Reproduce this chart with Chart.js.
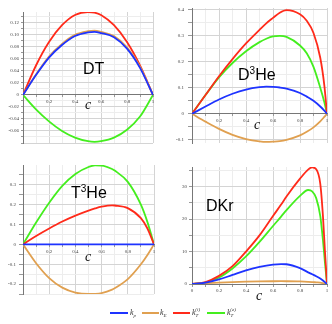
<!DOCTYPE html>
<html><head><meta charset="utf-8">
<script src="https://cdn.jsdelivr.net/npm/chart.js@4.4.0/dist/chart.umd.min.js"></script>
<style>
html,body{margin:0;padding:0;background:#fff;}
#wrap{position:relative;width:332px;height:324px;overflow:hidden;background:#fff;}
canvas{position:absolute;}
.ttl{position:absolute;font-family:"Liberation Sans",Arial,sans-serif;font-size:16px;line-height:16px;color:#000;white-space:nowrap;}
.ttl sup{font-size:10px;vertical-align:0;position:relative;top:-6px;line-height:0;}
.cx{position:absolute;font-family:"Liberation Serif","Times New Roman",serif;font-style:italic;font-size:14px;line-height:14px;color:#111;}
.lg{position:absolute;height:2px;top:312px;}
.lt{position:absolute;font-family:"Liberation Serif","Times New Roman",serif;font-style:italic;font-size:8px;line-height:8px;color:#333;top:309px;white-space:nowrap;}
.lt sub{font-size:5px;vertical-align:0;position:relative;top:2px;}
.lt sup{font-size:5px;vertical-align:0;position:relative;top:-4px;margin-left:-3px;}
</style></head><body>
<div id="wrap">
<canvas id="c1" width="160" height="150" style="left:0;top:0"></canvas>
<canvas id="c2" width="166" height="150" style="left:166px;top:0"></canvas>
<canvas id="c3" width="160" height="150" style="left:0;top:150px"></canvas>
<canvas id="c4" width="166" height="150" style="left:166px;top:150px"></canvas>

<div class="ttl" style="left:83px;top:61px">DT</div>
<div class="ttl" style="left:238px;top:67px">D<sup>3</sup>He</div>
<div class="ttl" style="left:71px;top:185px">T<sup>3</sup>He</div>
<div class="ttl" style="left:206px;top:198px">DKr</div>

<div class="cx" style="left:85px;top:98px">c</div>
<div class="cx" style="left:254px;top:118px">c</div>
<div class="cx" style="left:85px;top:250px">c</div>
<div class="cx" style="left:256px;top:289px">c</div>

<div class="lg" style="left:110px;width:18px;background:#1e33ff"></div>
<div class="lt" style="left:130px">k<sub>p</sub></div>
<div class="lg" style="left:142px;width:17px;background:#e0a050"></div>
<div class="lt" style="left:160px">k<sub>E</sub></div>
<div class="lg" style="left:173px;width:17px;background:#ff2a1a"></div>
<div class="lt" style="left:192px">k<sub>T</sub><sup>(i)</sup></div>
<div class="lg" style="left:207px;width:18px;background:#44ee1e"></div>
<div class="lt" style="left:227px">k<sub>T</sub><sup>(e)</sup></div>
</div>
<script>
// ---- data ----
const seriesNames = ['kp', 'kE', 'kTi', 'kTe'];
const seriesColors = ['#1e33ff', '#e0a050', '#ff2a1a', '#44ee1e'];

// DT panel
const dtC   = [0, 0.1, 0.2, 0.3, 0.4, 0.5, 0.55, 0.6, 0.7, 0.8, 0.9, 1];
const dtKp  = [0, 0.033, 0.062, 0.083, 0.098, 0.104, 0.105, 0.103, 0.096, 0.077, 0.045, 0];
const dtKE  = [0, 0.034, 0.064, 0.085, 0.100, 0.106, 0.107, 0.105, 0.098, 0.079, 0.047, 0];
const dtKTi = [0, 0.049, 0.088, 0.116, 0.133, 0.138, 0.137, 0.133, 0.116, 0.088, 0.049, 0];
const dtKTe = [0, -0.024, -0.044, -0.060, -0.071, -0.077, -0.078, -0.077, -0.071, -0.058, -0.036, 0];

// D3He panel
const dheC   = [0, 0.1, 0.2, 0.3, 0.4, 0.5, 0.55, 0.6, 0.65, 0.7, 0.8, 0.85, 0.9, 0.95, 0.98, 1];
const dheKp  = [0, 0.028, 0.055, 0.077, 0.093, 0.102, 0.104, 0.103, 0.101, 0.097, 0.080, 0.066, 0.050, 0.028, 0.012, 0];
const dheKE  = [0, -0.030, -0.058, -0.081, -0.097, -0.106, -0.108, -0.107, -0.105, -0.100, -0.083, -0.069, -0.052, -0.029, -0.012, 0];
const dheKTi = [0, 0.072, 0.144, 0.210, 0.270, 0.322, 0.347, 0.368, 0.388, 0.398, 0.382, 0.357, 0.310, 0.215, 0.110, 0];
const dheKTe = [0, 0.072, 0.140, 0.195, 0.240, 0.275, 0.288, 0.297, 0.299, 0.295, 0.262, 0.232, 0.180, 0.100, 0.045, 0];

// T3He panel
const theC   = [0, 0.1, 0.2, 0.3, 0.4, 0.5, 0.55, 0.6, 0.68, 0.7, 0.8, 0.9, 0.95, 1];
const theKp  = [0, 0, 0, 0, 0, 0, 0, 0, 0, 0, 0, 0, 0, 0];
const theKE  = [0, -0.095, -0.170, -0.218, -0.243, -0.250, -0.249, -0.245, -0.228, -0.221, -0.175, -0.100, -0.053, 0];
const theKTi = [0, 0.042, 0.080, 0.115, 0.145, 0.170, 0.181, 0.190, 0.197, 0.196, 0.183, 0.132, 0.080, 0];
const theKTe = [0, 0.110, 0.210, 0.295, 0.355, 0.390, 0.398, 0.397, 0.380, 0.372, 0.315, 0.200, 0.112, 0];

// DKr panel
const dkrC   = [0, 0.1, 0.2, 0.3, 0.4, 0.5, 0.6, 0.66, 0.7, 0.8, 0.86, 0.89, 0.92, 0.95, 0.97, 0.985, 1];
const dkrKp  = [0, 0.4, 1.4, 2.8, 4.2, 5.3, 6.0, 6.15, 6.1, 4.9, 3.6, 3.0, 2.4, 1.7, 1.1, 0.55, 0];
const dkrKE  = [0, 0.25, 0.45, 0.6, 0.72, 0.8, 0.85, 0.86, 0.85, 0.78, 0.68, 0.6, 0.5, 0.4, 0.25, 0.12, 0];
const dkrKTi = [0, 0.6, 2.5, 5.5, 10, 15, 21, 24.5, 27, 32.5, 35.3, 36, 35.4, 31, 21, 10, 0];
const dkrKTe = [0, 0.4, 2.0, 4.8, 8.5, 13, 17.9, 20.8, 22.8, 27.2, 29, 28.6, 26.5, 21, 13.5, 6.5, 0];

// ---- ticks ----
const xMajorTicks   = [0, 0.2, 0.4, 0.6, 0.8, 1];
const xMinorTicks   = [0.1, 0.3, 0.5, 0.7, 0.9];
const xLabels       = ['0', '0.2', '0.4', '0.6', '0.8', '1'];

const dtYMajor  = [-0.08, -0.06, -0.04, -0.02, 0, 0.02, 0.04, 0.06, 0.08, 0.10, 0.12];
const dtYLabels = ['', '-0.06', '-0.04', '-0.02', '0', '0.02', '0.04', '0.06', '0.08', '0.10', '0.12'];
const dtYMinor  = [-0.07, -0.05, -0.03, -0.01, 0.01, 0.03, 0.05, 0.07, 0.09, 0.11, 0.13];

const dheYMajor  = [-0.1, 0, 0.1, 0.2, 0.3, 0.4];
const dheYLabels = ['-0.1', '0', '0.1', '0.2', '0.3', '0.4'];
const dheYMinor  = [-0.05, 0.05, 0.15, 0.25, 0.35];

const theYMajor  = [-0.2, -0.1, 0, 0.1, 0.2, 0.3];
const theYLabels = ['-0.2', '-0.1', '0', '0.1', '0.2', '0.3'];
const theYMinor  = [-0.25, -0.15, -0.05, 0.05, 0.15, 0.25, 0.35];

const dkrYMajor  = [0, 10, 20, 30];
const dkrYLabels = ['0', '10', '20', '30'];
const dkrYMinor  = [5, 15, 25, 35];

// ---- drawing ----
function near(a, b) { return Math.abs(a - b) < 1e-9; }

function makePanel(id, c, series, o) {
  const datasets = series.map((s, i) => ({
    label: seriesNames[i],
    data: c.map((x, j) => ({ x: x, y: s[j] })),
    borderColor: seriesColors[i],
    borderWidth: 1.8,
    pointRadius: 0,
    fill: false,
    cubicInterpolationMode: 'monotone'
  }));
  const xT = xMajorTicks.concat(xMinorTicks).sort((a, b) => a - b);
  const yT = o.yMajor.concat(o.yMinor).filter(v => v >= o.yMin - 1e-9 && v <= o.yMax + 1e-9).sort((a, b) => a - b);
  const majorColor = '#d4d4d4', minorColor = '#ededed';
  new Chart(document.getElementById(id), {
    type: 'line',
    data: { datasets: datasets },
    options: {
      responsive: false,
      animation: false,
      events: [],
      layout: { padding: o.pad },
      plugins: { legend: { display: false }, tooltip: { enabled: false } },
      scales: {
        x: {
          type: 'linear', min: 0, max: 1,
          position: { y: 0 },
          afterBuildTicks: s => { s.ticks = xT.map(v => ({ value: v })); },
          afterFit: s => { s.height = 0; },
          grid: {
            color: ctx => (ctx.tick && xMajorTicks.some(m => near(m, ctx.tick.value))) ? majorColor : minorColor,
            tickLength: 2, tickColor: '#999'
          },
          border: { color: '#777', width: 1 },
          ticks: {
            autoSkip: false, maxRotation: 0, padding: 2,
            font: { family: 'Liberation Serif', size: 5 }, color: '#444',
            callback: v => {
              const k = xMajorTicks.findIndex(m => near(m, v));
              if (k < 0) return '';
              if (k === 0 && !o.showX0) return '';
              return xLabels[k];
            }
          }
        },
        y: {
          type: 'linear', min: o.yMin, max: o.yMax,
          position: 'left',
          afterBuildTicks: s => { s.ticks = yT.map(v => ({ value: v })); },
          afterFit: s => { s.width = o.yWidth; },
          grid: {
            color: ctx => (ctx.tick && o.yMajor.some(m => near(m, ctx.tick.value))) ? majorColor : minorColor,
            tickLength: o.yTick, tickColor: '#999'
          },
          border: { color: '#777', width: 1 },
          ticks: {
            autoSkip: false, padding: o.yPad,
            font: { family: 'Liberation Serif', size: 5 }, color: '#444',
            callback: v => {
              const k = o.yMajor.findIndex(m => near(m, v));
              return k < 0 ? '' : o.yLabels[k];
            }
          }
        }
      }
    }
  });
}

makePanel('c1', dtC, [dtKp, dtKE, dtKTi, dtKTe], {
  yMin: -0.08, yMax: 0.138, yMajor: dtYMajor, yMinor: dtYMinor, yLabels: dtYLabels,
  yWidth: 23, yTick: 2, yPad: 2, showX0: false,
  pad: { left: 0, right: 7, top: 12, bottom: 7 }
});
makePanel('c2', dheC, [dheKp, dheKE, dheKTi, dheKTe], {
  yMin: -0.112, yMax: 0.406, yMajor: dheYMajor, yMinor: dheYMinor, yLabels: dheYLabels,
  yWidth: 26, yTick: 4, yPad: 4, showX0: false,
  pad: { left: 0, right: 5, top: 8, bottom: 3 }
});
makePanel('c3', theC, [theKp, theKE, theKTi, theKTe], {
  yMin: -0.25, yMax: 0.40, yMajor: theYMajor, yMinor: theYMinor, yLabels: theYLabels,
  yWidth: 23, yTick: 4, yPad: 3, showX0: false,
  pad: { left: 0, right: 6, top: 15, bottom: 3 }
});
makePanel('c4', dkrC, [dkrKp, dkrKE, dkrKTi, dkrKTe], {
  yMin: 0, yMax: 36.1, yMajor: dkrYMajor, yMinor: dkrYMinor, yLabels: dkrYLabels,
  yWidth: 26, yTick: 3, yPad: 2, showX0: true,
  pad: { left: 0, right: 5, top: 17, bottom: 16 }
});
</script>
</body></html>
